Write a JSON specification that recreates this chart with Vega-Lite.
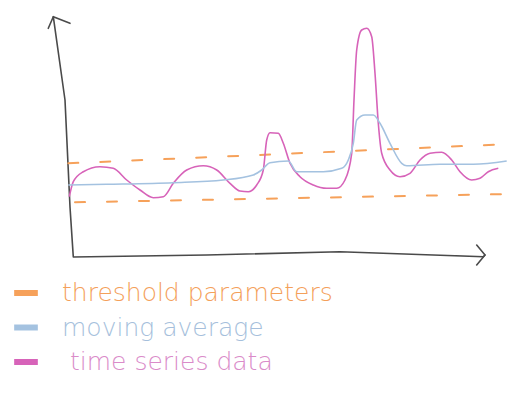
{
  "$schema": "https://vega.github.io/schema/vega-lite/v6.json",
  "width": 475,
  "height": 260,
  "autosize": {"type": "none"},
  "padding": {"left": 40, "top": 10, "right": 6, "bottom": 131},
  "background": "white",
  "config": {"view": {"stroke": null}},
  "datasets": {
    "series": [
      {"series": "time series data", "t": 29.3, "v": 73.3},
      {"series": "time series data", "t": 33.3, "v": 88.3},
      {"series": "time series data", "t": 43.3, "v": 98.3},
      {"series": "time series data", "t": 60, "v": 103.3},
      {"series": "time series data", "t": 73.3, "v": 101.7},
      {"series": "time series data", "t": 86.7, "v": 90},
      {"series": "time series data", "t": 100, "v": 80},
      {"series": "time series data", "t": 113.3, "v": 72.3},
      {"series": "time series data", "t": 123.3, "v": 73.3},
      {"series": "time series data", "t": 133.3, "v": 86.7},
      {"series": "time series data", "t": 146.7, "v": 100},
      {"series": "time series data", "t": 163.3, "v": 104.3},
      {"series": "time series data", "t": 176.7, "v": 100},
      {"series": "time series data", "t": 190, "v": 86.7},
      {"series": "time series data", "t": 200, "v": 79},
      {"series": "time series data", "t": 208.3, "v": 78.3},
      {"series": "time series data", "t": 216.7, "v": 85},
      {"series": "time series data", "t": 223.3, "v": 100},
      {"series": "time series data", "t": 226.7, "v": 130},
      {"series": "time series data", "t": 230, "v": 137.3},
      {"series": "time series data", "t": 238.3, "v": 136.7},
      {"series": "time series data", "t": 243.3, "v": 126.7},
      {"series": "time series data", "t": 250, "v": 106.7},
      {"series": "time series data", "t": 260, "v": 93.3},
      {"series": "time series data", "t": 273.3, "v": 85},
      {"series": "time series data", "t": 286.7, "v": 81.7},
      {"series": "time series data", "t": 296.7, "v": 81.7},
      {"series": "time series data", "t": 305, "v": 90},
      {"series": "time series data", "t": 311.7, "v": 116.7},
      {"series": "time series data", "t": 314, "v": 170},
      {"series": "time series data", "t": 316.7, "v": 220},
      {"series": "time series data", "t": 321.7, "v": 240},
      {"series": "time series data", "t": 326.7, "v": 241.7},
      {"series": "time series data", "t": 331.7, "v": 233.3},
      {"series": "time series data", "t": 335, "v": 196.7},
      {"series": "time series data", "t": 338.3, "v": 146.7},
      {"series": "time series data", "t": 341.7, "v": 116.7},
      {"series": "time series data", "t": 350, "v": 100},
      {"series": "time series data", "t": 360, "v": 93.3},
      {"series": "time series data", "t": 370, "v": 96.7},
      {"series": "time series data", "t": 380, "v": 110},
      {"series": "time series data", "t": 390, "v": 116.7},
      {"series": "time series data", "t": 401.7, "v": 117.7},
      {"series": "time series data", "t": 411.7, "v": 110},
      {"series": "time series data", "t": 420, "v": 98.3},
      {"series": "time series data", "t": 431.7, "v": 90},
      {"series": "time series data", "t": 440, "v": 91.7},
      {"series": "time series data", "t": 448.3, "v": 98.3},
      {"series": "time series data", "t": 458.3, "v": 101.7},
      {"series": "moving average", "t": 28.3, "v": 85},
      {"series": "moving average", "t": 66.7, "v": 85.7},
      {"series": "moving average", "t": 133.3, "v": 87.3},
      {"series": "moving average", "t": 183.3, "v": 90},
      {"series": "moving average", "t": 213.3, "v": 95},
      {"series": "moving average", "t": 221.7, "v": 100},
      {"series": "moving average", "t": 230, "v": 107.3},
      {"series": "moving average", "t": 248.3, "v": 109},
      {"series": "moving average", "t": 256.7, "v": 98.3},
      {"series": "moving average", "t": 283.3, "v": 98.3},
      {"series": "moving average", "t": 301.7, "v": 101.7},
      {"series": "moving average", "t": 308.3, "v": 110},
      {"series": "moving average", "t": 313.3, "v": 126.7},
      {"series": "moving average", "t": 316.7, "v": 150},
      {"series": "moving average", "t": 325, "v": 155},
      {"series": "moving average", "t": 333.3, "v": 155},
      {"series": "moving average", "t": 340, "v": 146.7},
      {"series": "moving average", "t": 350, "v": 126.7},
      {"series": "moving average", "t": 361.7, "v": 106.7},
      {"series": "moving average", "t": 366.7, "v": 104.3},
      {"series": "moving average", "t": 400, "v": 105.7},
      {"series": "moving average", "t": 433.3, "v": 105.7},
      {"series": "moving average", "t": 466.7, "v": 109}
    ],
    "thresholds": [
      {"series": "threshold parameters", "bound": "upper", "t": 28.3, "v": 106.7},
      {"series": "threshold parameters", "bound": "upper", "t": 470, "v": 126},
      {"series": "threshold parameters", "bound": "lower", "t": 35, "v": 67.7},
      {"series": "threshold parameters", "bound": "lower", "t": 470, "v": 76}
    ],
    "axes": [
      {"part": "axes", "i": 1, "t": 13.3, "v": 253.3},
      {"part": "axes", "i": 2, "t": 25, "v": 170},
      {"part": "axes", "i": 3, "t": 30, "v": 63},
      {"part": "axes", "i": 4, "t": 33.3, "v": 13},
      {"part": "axes", "i": 5, "t": 166.7, "v": 15},
      {"part": "axes", "i": 6, "t": 300, "v": 18.3},
      {"part": "axes", "i": 7, "t": 443.3, "v": 13.3},
      {"part": "axes", "i": 8, "t": 445, "v": 15},
      {"part": "yarrow", "i": 1, "t": 8.3, "v": 241.7},
      {"part": "yarrow", "i": 2, "t": 13.3, "v": 253.3},
      {"part": "yarrow", "i": 3, "t": 30, "v": 246.7},
      {"part": "xarrow", "i": 1, "t": 436.7, "v": 25},
      {"part": "xarrow", "i": 2, "t": 445, "v": 15},
      {"part": "xarrow", "i": 3, "t": 436.7, "v": 5}
    ]
  },
  "layer": [
    {
      "data": {"name": "axes"},
      "mark": {"type": "line", "stroke": "#4a4a4a", "strokeWidth": 1.6, "strokeCap": "round", "strokeJoin": "round"},
      "encoding": {
        "x": {"field": "t", "type": "quantitative", "scale": {"domain": [0, 475]}, "axis": null},
        "y": {"field": "v", "type": "quantitative", "scale": {"domain": [0, 260]}, "axis": null},
        "detail": {"field": "part"},
        "order": {"field": "i", "type": "quantitative"}
      }
    },
    {
      "data": {"name": "thresholds"},
      "mark": {"type": "line", "strokeWidth": 2, "strokeDash": [10, 22], "strokeCap": "round"},
      "encoding": {
        "x": {"field": "t", "type": "quantitative", "scale": {"domain": [0, 475]}, "axis": null},
        "y": {"field": "v", "type": "quantitative", "scale": {"domain": [0, 260]}, "axis": null},
        "detail": {"field": "bound"},
        "color": {"field": "series", "type": "nominal"}
      }
    },
    {
      "data": {"name": "series"},
      "mark": {"type": "line", "interpolate": "monotone", "strokeWidth": 1.6},
      "encoding": {
        "x": {"field": "t", "type": "quantitative", "scale": {"domain": [0, 475]}, "axis": null},
        "y": {"field": "v", "type": "quantitative", "scale": {"domain": [0, 260]}, "axis": null},
        "color": {
          "field": "series",
          "type": "nominal",
          "scale": {
            "domain": ["threshold parameters", "moving average", "time series data"],
            "range": ["#f6a15a", "#a4c2e0", "#d763b9"]
          },
          "legend": {
            "title": null,
            "orient": "none",
            "legendX": -29,
            "legendY": 268,
            "symbolType": "stroke",
            "symbolSize": 560,
            "symbolStrokeWidth": 6,
            "rowPadding": 6.5,
            "labelOffset": 21,
            "labelFont": "DejaVu Sans",
            "labelFontSize": 25,
            "labelFontWeight": 200,
            "labelLimit": 0,
            "encode": {
              "labels": {
                "update": {
                  "fill": {"signal": "datum.value === 'threshold parameters' ? '#f4a05a' : datum.value === 'moving average' ? '#a6bfdc' : '#da8bc9'"},
                  "dx": {"signal": "datum.value === 'time series data' ? 8 : 0"}
                }
              }
            }
          }
        }
      }
    }
  ]
}
